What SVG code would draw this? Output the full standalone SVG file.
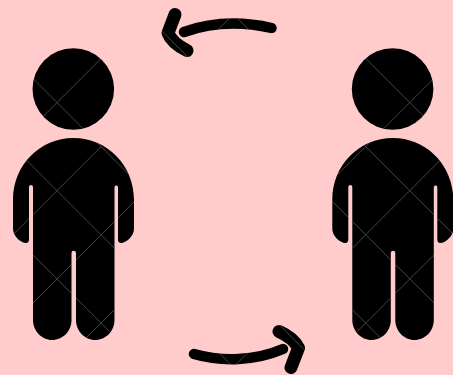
<svg xmlns="http://www.w3.org/2000/svg" width="453" height="375" viewBox="0 0 453 375">
<style>
.a{fill:none;stroke:#000;stroke-linecap:round;stroke-linejoin:round}
.w{fill:none;stroke:#444;stroke-width:1;mix-blend-mode:lighten}
</style>
<defs>
<g id="person">
<circle cx="73.300" cy="89" r="40.800"/>
<path d="M73.500 138C40 138 13 165 13 200V229C13 236 21 243 26 243C28 243 29 241.500 29 240V187A2 2 0 0 1 33 187V320C33 331 42 340 52 340C63 340 71.500 331 71.500 320V253A2.200 2.200 0 0 1 76 253V320C76 331 85 340 95 340C106 340 114.500 331 114.500 320V187A1.800 1.800 0 0 1 118 187V240C118 241.500 119 243 121 243C126 243 134 236 134 229V200C134 165 107 138 73.500 138Z"/>
</g>
</defs>
<rect width="453" height="375" fill="#ffcccb"/>
<g id="person-left"><use href="#person"/></g>
<g id="person-right"><use href="#person" x="319.300"/></g>
<g id="connectors">
<path class="a" stroke-width="10.500" d="M271.500 28C245 22 215 21 184 32"/>
<path class="a" stroke-width="13" d="M175 14.500L168 33C171 41 178 46 187 50.500"/>
<path class="a" stroke-width="10.500" d="M194 354C222 362 255 361 283 349"/>
<path class="a" stroke-width="13" d="M279 331.500C287 335 295 341 298.500 348L291 367.500"/>
</g>
<path class="w" d="M71.300 0L0 71.300M159.500 0L0 159.500M247.700 0L0 247.700M335.900 0L0 335.900M424.100 0L0 424.100M512.300 0L0 512.300M600.500 0L0 600.500M688.700 0L0 688.700M776.900 0L0 776.900M0 310.100L453 763.100M0 221.900L453 674.900M0 133.700L453 586.700M0 45.500L453 498.500M0 -42.700L453 410.300M0 -130.900L453 322.100M0 -219.100L453 233.900M0 -307.300L453 145.700M0 -395.500L453 57.500"/>
</svg>
